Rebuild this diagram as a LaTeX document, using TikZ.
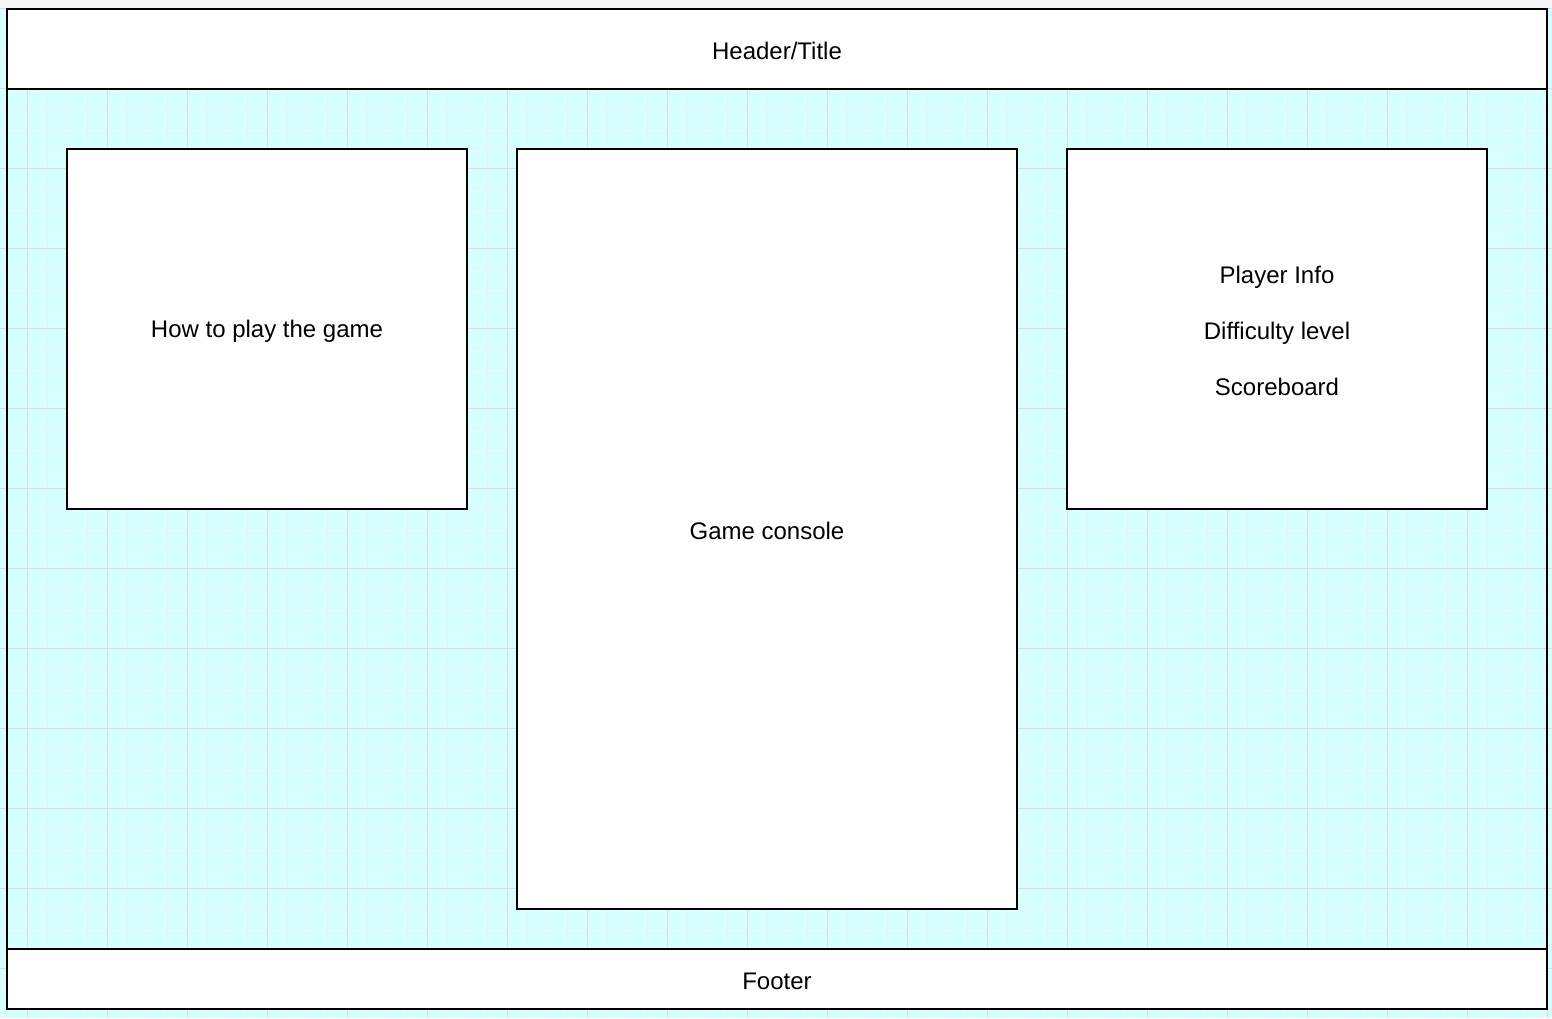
\documentclass[tikz,border=0pt]{standalone}
\usepackage{fontspec}
\setmainfont{Liberation Sans}
\definecolor{bgcyan}{RGB}{214,255,255}
\definecolor{minorgrid}{RGB}{230,244,244}
\definecolor{majorgrid}{RGB}{228,216,218}
\definecolor{topgray}{RGB}{245,246,248}
\begin{document}
\begin{tikzpicture}[x=1pt,y=-1pt,
  panel/.style={draw=black,line width=2pt,fill=white},
  lbl/.style={font=\fontsize{24}{28}\selectfont,align=center,text=black}]
\useasboundingbox (0,0) rectangle (1552,1018);
\fill[bgcyan] (0,0) rectangle (1552,1018);
% minor grid
\foreach \x in {7,27,...,1547} {\draw[minorgrid,line width=1pt] (\x,8) -- (\x,1018);}
\foreach \y in {8,28,...,1018} {\draw[minorgrid,line width=1pt] (0,\y) -- (1552,\y);}
% major grid
\foreach \x in {27,107,...,1547} {\draw[majorgrid,line width=1pt] (\x,8) -- (\x,1018);}
\foreach \y in {8,88,...,1018} {\draw[majorgrid,line width=1pt] (0,\y) -- (1552,\y);}
\fill[topgray] (0,0) rectangle (1552,8);
% main area
\draw[black,line width=2pt] (7,89) rectangle (1547,949);
% panels
\draw[panel] (7,9) rectangle (1547,89);
\node[lbl] (header) at (777,51) {Header/Title};
\draw[panel] (67,149) rectangle (467,509);
\node[lbl] (howto) at (267,331) {How to play the game};
\draw[panel] (517,149) rectangle (1017,909);
\node[lbl] (console) at (767,531) {Game console};
\draw[panel] (1067,149) rectangle (1487,509);
\node[lbl] (info) at (1277,331) {Player Info\\[28pt]Difficulty level\\[28pt]Scoreboard};
\draw[panel] (7,949) rectangle (1547,1009);
\node[lbl] (footer) at (777,981) {Footer};
\end{tikzpicture}
\end{document}
